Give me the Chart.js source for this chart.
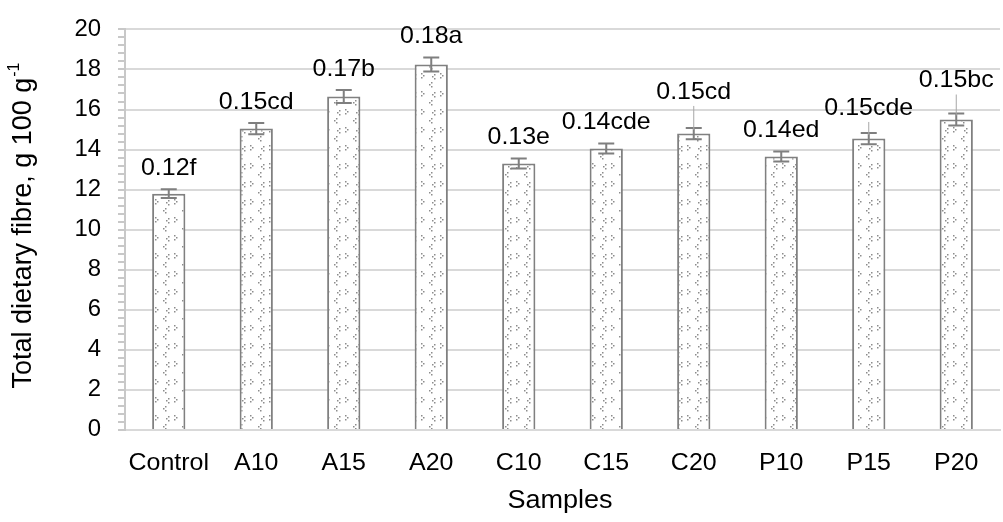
<!DOCTYPE html>
<html>
<head>
<meta charset="utf-8">
<script src="https://cdn.jsdelivr.net/npm/chart.js@4"></script>
<style>
  html, body { margin: 0; padding: 0; background: #fff; }
  #wrap { width: 1003px; height: 522px; }
</style>
</head>
<body>
<div id="wrap"><canvas id="chart" width="1003" height="522"></canvas></div>
<script>
const samples = ['Control', 'A10', 'A15', 'A20', 'C10', 'C15', 'C20', 'P10', 'P15', 'P20'];
const fibre = [11.8, 15.05, 16.65, 18.25, 13.3, 14.05, 14.8, 13.65, 14.55, 15.5];
const fibreErr = [0.22, 0.28, 0.32, 0.35, 0.25, 0.25, 0.28, 0.25, 0.28, 0.3];
const groupLabels = ['0.12f', '0.15cd', '0.17b', '0.18a', '0.13e', '0.14cde', '0.15cd', '0.14ed', '0.15cde', '0.15bc'];

const FONT = '"Liberation Sans", Arial, sans-serif';
const SX = 1.04;
const isMajor = v => Math.abs(v / 2 - Math.round(v / 2)) < 1e-6;

const wideText = (ctx, text, x, y, size, align) => {
  ctx.save();
  ctx.translate(x, y);
  ctx.scale(SX, 1);
  ctx.font = size + 'px ' + FONT;
  ctx.textAlign = align;
  ctx.textBaseline = 'middle';
  ctx.fillStyle = '#000';
  ctx.fillText(text, 0, 0);
  ctx.restore();
};

// small dotted chevrons, like the Excel pattern fill
const makePattern = () => {
  const c = document.createElement('canvas');
  c.width = 19; c.height = 18;
  const g = c.getContext('2d');
  g.fillStyle = '#fff';
  g.fillRect(0, 0, 19, 18);
  g.fillStyle = '#8c8c8c';
  const chevron = (x, y, dir) => {
    g.fillRect(x, y, 1.5, 1.5);
    g.fillRect(x + 2 * dir, y + 2, 1.5, 1.5);
    g.fillRect(x, y + 4, 1.5, 1.5);
  };
  chevron(3, 1, 1);
  chevron(13, 10, -1);
  chevron(16, 2, -1);
  return g.createPattern(c, 'repeat');
};

// extra lift for labels that were moved up and tied with a leader line
const leaderLift = { 6: 15, 8: 4, 9: 12 };

const errorBars = {
  id: 'errorBars',
  afterDatasetsDraw(chart) {
    const { ctx, scales: { y } } = chart;
    const meta = chart.getDatasetMeta(0);
    ctx.save();
    meta.data.forEach((bar, i) => {
      const top = y.getPixelForValue(fibre[i] + fibreErr[i]);
      const bot = y.getPixelForValue(fibre[i] - fibreErr[i]);
      ctx.strokeStyle = '#7f7f7f';
      ctx.lineWidth = 2;
      ctx.beginPath();
      ctx.moveTo(bar.x, top); ctx.lineTo(bar.x, bot);
      ctx.moveTo(bar.x - 8, top); ctx.lineTo(bar.x + 8, top);
      ctx.moveTo(bar.x - 8, bot); ctx.lineTo(bar.x + 8, bot);
      ctx.stroke();

      const lift = leaderLift[i] || 0;
      const ly = top - 21 - lift;
      wideText(ctx, groupLabels[i], bar.x, ly, 24, 'center');
      if (lift) {
        ctx.strokeStyle = '#a6a6a6';
        ctx.lineWidth = 1;
        ctx.beginPath();
        ctx.moveTo(bar.x, ly + 14);
        ctx.lineTo(bar.x, top + 2);
        ctx.stroke();
      }
    });
    ctx.restore();
  }
};

const axisText = {
  id: 'axisText',
  afterDraw(chart) {
    const { ctx, scales: { x, y } } = chart;
    y.ticks.forEach(t => {
      if (isMajor(t.value)) wideText(ctx, String(Math.round(t.value)), 101, y.getPixelForValue(t.value), 23, 'right');
    });
    samples.forEach((s, i) => wideText(ctx, s, x.getPixelForTick(i), 463, 24, 'center'));
    wideText(ctx, 'Samples', 560, 501, 26, 'center');

    const main = 'Total dietary fibre, g 100 g';
    const sup = '-1';
    ctx.save();
    ctx.fillStyle = '#000';
    ctx.textBaseline = 'middle';
    ctx.font = '27px ' + FONT;
    const mw = ctx.measureText(main).width;
    ctx.font = '16px ' + FONT;
    const sw = ctx.measureText(sup).width;
    ctx.translate(24, 226);
    ctx.rotate(-Math.PI / 2);
    const start = -(mw + sw) / 2;
    ctx.textAlign = 'left';
    ctx.font = '27px ' + FONT;
    ctx.fillText(main, start, 0);
    ctx.font = '16px ' + FONT;
    ctx.fillText(sup, start + mw + 1, -9);
    ctx.restore();
  }
};

new Chart(document.getElementById('chart'), {
  type: 'bar',
  data: {
    labels: samples,
    datasets: [{
      data: fibre,
      backgroundColor: makePattern(),
      borderColor: '#808080',
      borderWidth: 2,
      borderSkipped: 'bottom',
      categoryPercentage: 1,
      barPercentage: 0.38
    }]
  },
  options: {
    responsive: false,
    animation: false,
    layout: { padding: { top: 10, right: 3, left: 0, bottom: 0 } },
    plugins: { legend: { display: false }, tooltip: { enabled: false } },
    scales: {
      x: {
        afterFit: s => { s.height = 92; },
        grid: { display: false },
        border: { color: '#d9d9d9', width: 2 },
        ticks: { color: 'rgba(0,0,0,0)', font: { family: FONT, size: 19 }, padding: 22 }
      },
      y: {
        min: 0,
        max: 20,
        afterFit: s => { s.width = 125; },
        border: { color: '#c8c8c8', width: 2 },
        grid: {
          color: c => (c.tick && isMajor(c.tick.value) && c.tick.value > 0 ? '#d9d9d9' : 'rgba(0,0,0,0)'),
          lineWidth: 2,
          tickColor: '#c8c8c8',
          tickLength: 7,
          drawTicks: true
        },
        ticks: {
          stepSize: 0.4,
          autoSkip: false,
          color: 'rgba(0,0,0,0)',
          padding: 18,
          font: { family: FONT, size: 19 },
          callback: v => (isMajor(v) ? String(Math.round(v)) : '')
        }
      }
    }
  },
  plugins: [errorBars, axisText]
});
</script>
</body>
</html>
